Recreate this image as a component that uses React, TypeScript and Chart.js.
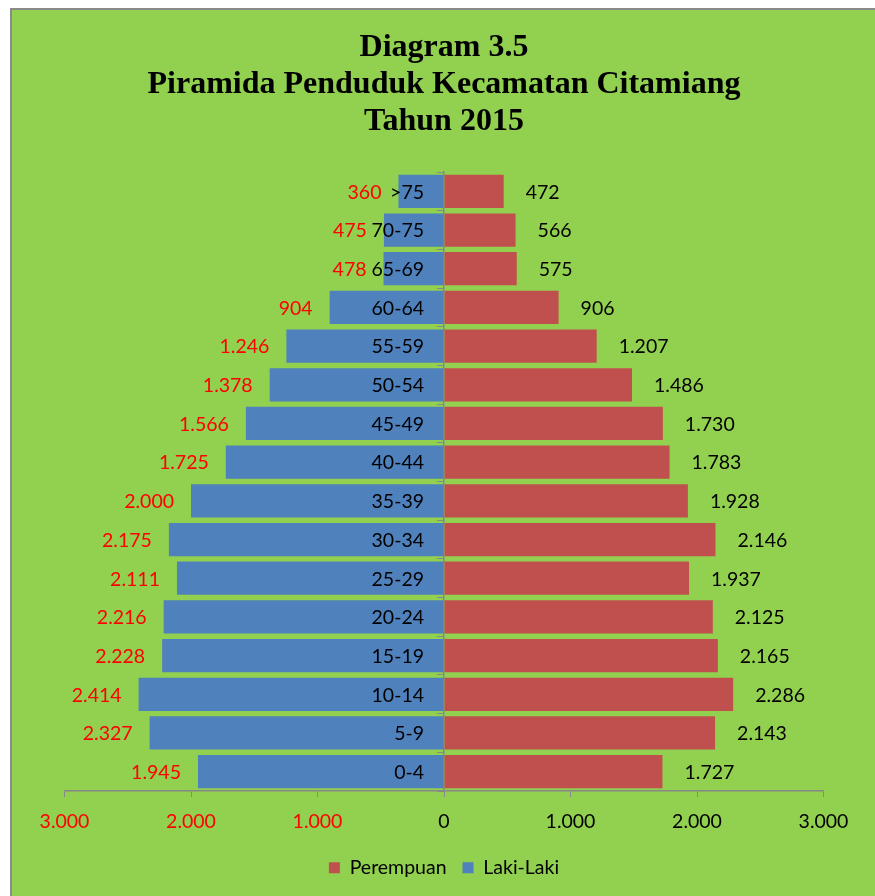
import React, { useEffect, useRef } from 'react';
import { Chart, registerables } from 'chart.js';

Chart.register(...registerables);

const AGE_GROUPS = ['>75', '70-75', '65-69', '60-64', '55-59', '50-54', '45-49', '40-44', '35-39', '30-34', '25-29', '20-24', '15-19', '10-14', '5-9', '0-4'];
const LAKI_LAKI = [360, 475, 478, 904, 1246, 1378, 1566, 1725, 2000, 2175, 2111, 2216, 2228, 2414, 2327, 1945];
const PEREMPUAN = [472, 566, 575, 906, 1207, 1486, 1730, 1783, 1928, 2146, 1937, 2125, 2165, 2286, 2143, 1727];
const X_TICKS = [-3000, -2000, -1000, 0, 1000, 2000, 3000];
const TITLE_LINES = ['Diagram 3.5', 'Piramida Penduduk Kecamatan Citamiang', 'Tahun 2015'];
const SERIES_NAMES = ['Perempuan', 'Laki-Laki'];

const SANS = "Lato, 'Open Sans', sans-serif";
const SERIF = "'Liberation Serif', 'Times New Roman', serif";
const FONT_SIZE = 19.5;

const fmt = (v: number) => String(Math.abs(v)).replace(/\B(?=(\d{3})+(?!\d))/g, '.');

const labelsPlugin = {
  id: 'pyramidLabels',
  afterDatasetsDraw(chart: any) {
    const ctx = chart.ctx;
    const xs = chart.scales.x;
    const ys = chart.scales.y;
    ctx.save();
    ctx.font = `${FONT_SIZE}px ${SANS}`;
    ctx.textBaseline = 'middle';
    const zero = xs.getPixelForValue(0);
    ctx.fillStyle = '#000000';
    ctx.textAlign = 'right';
    AGE_GROUPS.forEach((g, i) => {
      ctx.fillText(g, zero - 20, ys.getPixelForValue(i) + 1);
    });
    const female = chart.getDatasetMeta(0).data;
    const male = chart.getDatasetMeta(1).data;
    male.forEach((bar: any, i: number) => {
      ctx.fillStyle = '#FF0000';
      ctx.textAlign = 'right';
      ctx.fillText(fmt(LAKI_LAKI[i]), bar.x - 17, bar.y + 1);
    });
    female.forEach((bar: any, i: number) => {
      ctx.fillStyle = '#000000';
      ctx.textAlign = 'left';
      ctx.fillText(fmt(PEREMPUAN[i]), bar.x + 22, bar.y + 1);
    });
    ctx.restore();
  },
};

export default function App() {
  const canvasRef = useRef<HTMLCanvasElement | null>(null);

  useEffect(() => {
    const canvas = canvasRef.current;
    if (!canvas) return;
    const chart = new Chart(canvas, {
      type: 'bar',
      data: {
        labels: AGE_GROUPS,
        datasets: [
          {
            label: SERIES_NAMES[0],
            data: PEREMPUAN,
            backgroundColor: '#C0504D',
            borderWidth: 0,
            barPercentage: 0.86,
            categoryPercentage: 1,
          },
          {
            label: SERIES_NAMES[1],
            data: LAKI_LAKI.map((v) => -v),
            backgroundColor: '#4F81BD',
            borderWidth: 0,
            barPercentage: 0.86,
            categoryPercentage: 1,
          },
        ],
      },
      options: {
        indexAxis: 'y',
        responsive: false,
        animation: false,
        devicePixelRatio: 1,
        layout: { padding: { top: 19, left: 64.5, right: 51.5, bottom: 8.5 } },
        scales: {
          x: {
            type: 'linear',
            min: -3000,
            max: 3000,
            stacked: true,
            afterBuildTicks: (s: any) => {
              s.ticks = X_TICKS.map((v) => ({ value: v }));
            },
            afterFit: (s: any) => {
              s.height = 51;
            },
            ticks: {
              callback: (v: any) => fmt(Number(v)),
              color: (c: any) => (c.tick && c.tick.value < 0 ? '#FF0000' : '#000000'),
              font: { size: FONT_SIZE, family: SANS },
              padding: 13,
              maxRotation: 0,
              autoSkip: false,
            },
            grid: { drawOnChartArea: false, drawTicks: true, tickLength: 6, color: '#888888' },
            border: { display: true, color: '#888888', width: 1.5 },
          },
          y: {
            type: 'category',
            stacked: true,
            position: { x: 0 } as any,
            z: 1,
            ticks: { display: false },
            grid: { drawOnChartArea: false, drawTicks: true, tickLength: 6, color: '#888888', offset: true },
            border: { display: true, color: '#888888', width: 1.5 },
          },
        },
        plugins: {
          title: {
            display: true,
            text: TITLE_LINES,
            color: '#000000',
            font: { family: SERIF, size: 32, weight: 'bold', lineHeight: 37 / 32 },
            padding: { top: 10, bottom: 32 },
          },
          legend: {
            display: true,
            position: 'bottom',
            labels: {
              boxWidth: 11,
              boxHeight: 11,
              padding: 16,
              color: '#000000',
              font: { size: FONT_SIZE, family: SANS },
            },
          },
          tooltip: { enabled: false },
        },
      } as any,
      plugins: [labelsPlugin],
    });
    return () => chart.destroy();
  }, []);

  return (
    <div style={{ position: 'absolute', left: 0, top: 0, width: 875, height: 896, overflow: 'hidden', background: '#ffffff' }}>
      <div
        style={{
          position: 'absolute',
          left: 10,
          top: 8,
          width: 900,
          height: 920,
          borderLeft: '2px solid #8a8a8a',
          borderTop: '2px solid #8a8a8a',
          background: '#92D050',
        }}
      />
      <canvas ref={canvasRef} width={875} height={896} style={{ position: 'absolute', left: 0, top: 0, width: 875, height: 896 }} />
    </div>
  );
}
